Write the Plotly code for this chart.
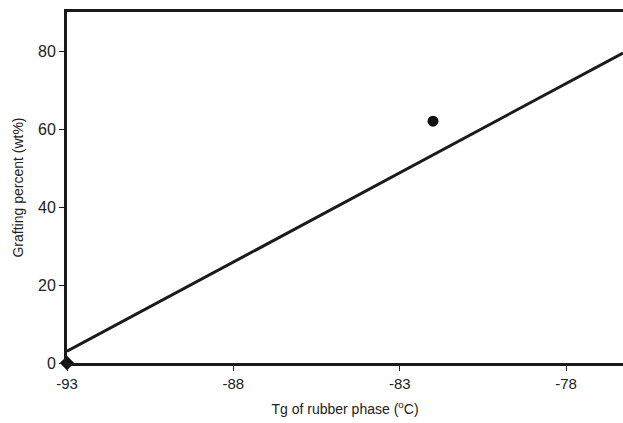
import plotly.graph_objects as go

# Measured points: Tg of the rubber phase vs. grafting percent
tg_points = [-93, -82]
graft_points = [0, 62]
point_symbols = ["diamond", "circle"]

# Linear trend line endpoints
trend_x = [-93, -76.29]
trend_y = [3.0, 79.5]

x_ticks = [-93, -88, -83, -78]
y_ticks = [0, 20, 40, 60, 80]

fig = go.Figure()
fig.add_trace(go.Scatter(
    x=trend_x, y=trend_y, mode="lines",
    line=dict(color="#1a1a1a", width=3),
    showlegend=False, cliponaxis=False,
))
fig.add_trace(go.Scatter(
    x=tg_points, y=graft_points, mode="markers",
    marker=dict(color="#111111", size=11, symbol=point_symbols),
    showlegend=False, cliponaxis=False,
))

font_family = "Liberation Sans, Arial, sans-serif"
fig.update_layout(
    width=623, height=423,
    margin=dict(l=67, r=0, t=12, b=60),
    paper_bgcolor="white", plot_bgcolor="white",
    font=dict(family=font_family, color="#222222", size=14),
    xaxis=dict(
        range=[-93, -76.29], tickvals=x_ticks, ticktext=[str(v) for v in x_ticks],
        showgrid=False, zeroline=False,
        showline=True, linecolor="#1a1a1a", linewidth=3, mirror=True,
        ticks="outside", ticklen=5, tickwidth=1, tickcolor="#1a1a1a",
        tickfont=dict(size=15, color="#222222"),
        title=dict(text="Tg of rubber phase (<sup>o</sup>C)", font=dict(size=14, color="#222222"), standoff=14),
    ),
    yaxis=dict(
        range=[0, 90], tickvals=y_ticks,
        showgrid=False, zeroline=False,
        showline=True, linecolor="#1a1a1a", linewidth=3,
        ticks="outside", ticklen=5, tickwidth=1, tickcolor="#1a1a1a",
        tickfont=dict(size=16, color="#222222"),
        title=dict(text="Grafting percent (wt%)", font=dict(size=14, color="#222222"), standoff=12),
    ),
)

fig.write_html("out.html")
